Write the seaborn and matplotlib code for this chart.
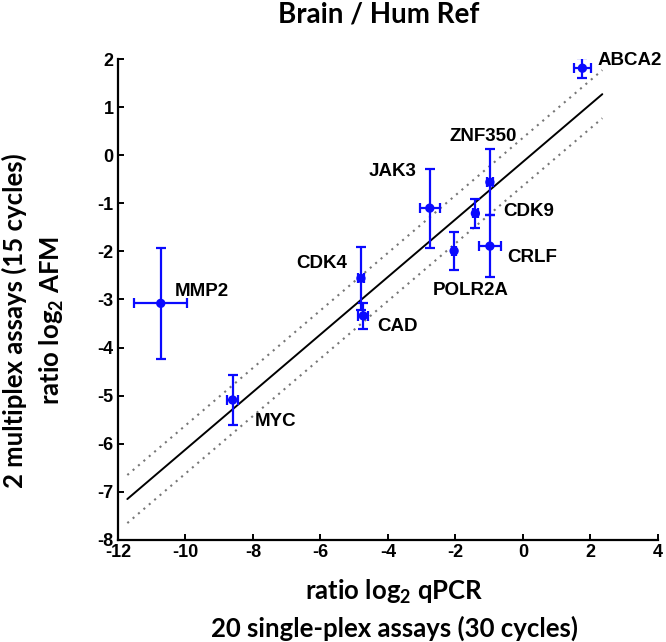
import pandas as pd
import matplotlib.pyplot as plt
import seaborn as sns
import numpy as np

# values
genes = ['MMP2', 'CDK4', 'CAD', 'MYC', 'JAK3', 'ZNF350', 'CDK9', 'CRLF', 'POLR2A', 'ABCA2']
qpcr = [-10.73, -4.80, -4.73, -8.60, -2.76, -0.98, -1.41, -0.98, -2.04, 1.76]
afm = [-3.08, -2.56, -3.34, -5.09, -1.10, -0.56, -1.21, -1.89, -1.99, 1.81]
qpcr_err = [0.78, 0.08, 0.15, 0.17, 0.29, 0.10, 0.08, 0.33, 0.06, 0.25]
afm_err = [1.15, 0.65, 0.27, 0.52, 0.82, 0.68, 0.30, 0.64, 0.40, 0.21]

# label anchors (left edge, vertical centre)
label_x = [-10.31, -6.73, -4.31, -7.96, -4.56, -2.19, -0.58, -0.46, -2.68, 2.21]
label_y = [-2.84, -2.25, -3.56, -5.53, -0.34, 0.40, -1.17, -2.13, -2.82, 1.96]

# fit line and +/- band
fit_x = [-11.72, 2.35]
fit_y = [-7.15, 1.27]
band = 0.5

df = pd.DataFrame({'gene': genes, 'qpcr': qpcr, 'afm': afm,
                   'xerr': qpcr_err, 'yerr': afm_err})

sns.set_style('ticks')
plt.rcParams['font.family'] = ['Liberation Sans', 'DejaVu Sans']
plt.rcParams['font.weight'] = 'bold'
plt.rcParams['mathtext.default'] = 'regular'
plt.rcParams['axes.unicode_minus'] = False
plt.rcParams['text.color'] = 'black'
plt.rcParams['xtick.color'] = 'black'
plt.rcParams['ytick.color'] = 'black'
plt.rcParams['axes.edgecolor'] = 'black'

fig = plt.figure(figsize=(6.66, 6.42), dpi=100)
ax = fig.add_axes([0.177, 0.159, 0.811, 0.749])

# regression line and dotted band
sns.lineplot(x=fit_x, y=fit_y, color='black', linewidth=1.4, ax=ax)
ax.plot(fit_x, np.array(fit_y) + band, color='#777777', linestyle=(0, (1, 2.4)), linewidth=1.5)
ax.plot(fit_x, np.array(fit_y) - band, color='#777777', linestyle=(0, (1, 2.4)), linewidth=1.5)

# error bars + points
ax.errorbar(df['qpcr'], df['afm'], xerr=df['xerr'], yerr=df['yerr'], fmt='none',
            ecolor='#0a0aff', elinewidth=1.6, capsize=3.5, capthick=1.6, zorder=3)
sns.scatterplot(data=df, x='qpcr', y='afm', color='#0a0aff', s=45,
                edgecolor='none', ax=ax, zorder=4)

for g, lx, ly in zip(genes, label_x, label_y):
    ax.text(lx, ly, g, fontsize=13.5, fontweight='bold', ha='left', va='center')

ax.set_xlim(-12, 4)
ax.set_ylim(-8, 2)
ax.set_xticks(np.arange(-12, 5, 2))
ax.set_yticks(np.arange(-8, 3, 1))
ax.set_xlabel('')
ax.set_ylabel('')
sns.despine(ax=ax)
for s in ['left', 'bottom']:
    ax.spines[s].set_linewidth(1.6)
ax.tick_params(direction='in', length=4, width=1.4, labelsize=13, pad=3)

lab = ['Lato', 'DejaVu Sans']
fig.text(0.568, 0.977, 'Brain / Hum Ref', ha='center', va='center',
         fontsize=20, fontweight='bold', family=lab)
fig.text(0.592, 0.078, 'ratio log$_2$ qPCR', ha='center', va='center',
         fontsize=18.5, fontweight='bold', family=lab)
fig.text(0.592, 0.022, '20 single-plex assays (30 cycles)', ha='center', va='center',
         fontsize=18.5, fontweight='bold', family=lab)
fig.text(0.022, 0.50, '2 multiplex assays (15 cycles)', ha='center', va='center',
         rotation=90, fontsize=18.5, fontweight='bold', family=lab)
fig.text(0.078, 0.50, 'ratio log$_2$ AFM', ha='center', va='center',
         rotation=90, fontsize=18.5, fontweight='bold', family=lab)

fig.savefig('out.png', dpi=100, facecolor='white')
